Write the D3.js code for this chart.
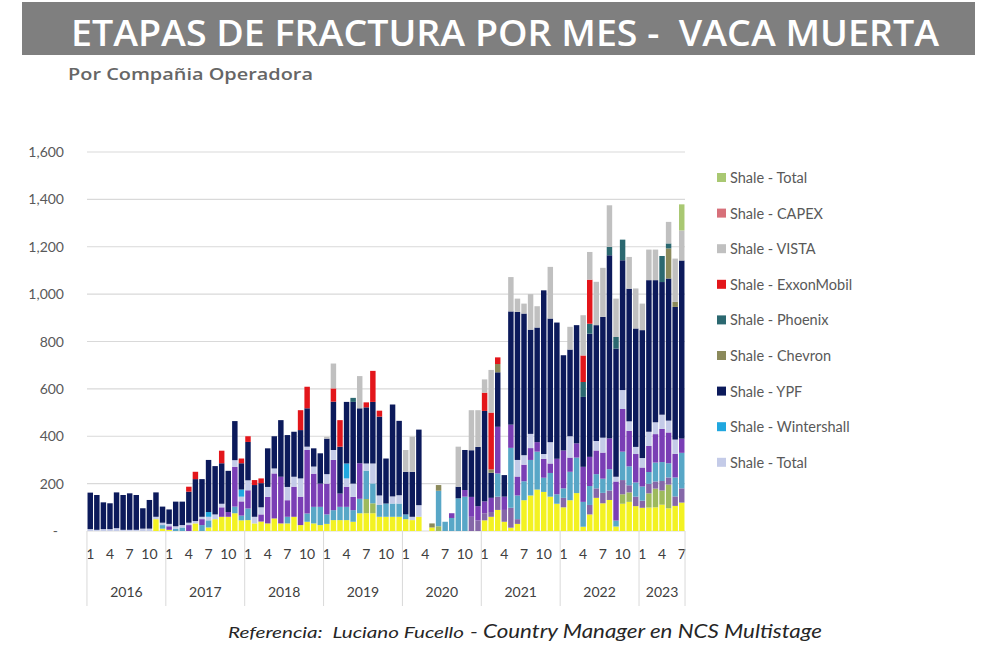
<!DOCTYPE html>
<html><head><meta charset="utf-8">
<script src="https://cdn.jsdelivr.net/npm/d3@7"></script>
<style>body{margin:0;background:#fff}svg{display:block}text{white-space:pre}</style>
</head><body>
<svg id="chart" width="992" height="658"></svg>
<script>
// ---------- DATA ----------
const years = ["2016","2017","2018","2019","2020","2021","2022","2023"];
const monthsPerYear = [12,12,12,12,12,12,12,7];
const monthTickLabels = [1,4,7,10];
const yTicks = [0,200,400,600,800,1000,1200,1400,1600];

const shell = [0,0,0,0,0,0,0,0,0,0,50,10, 5,0,0,0,32,0,15,50,60,60,75,45, 46,32,40,32,53,32,32,60,25,39,32,25, 30,46,46,46,39,75,75,75,60,60,60,60, 50,46,60,0,15,0,0,0,0,0,0,0, 45,60,89,39,14,30,130,150,175,165,145,115, 100,130,160,18,70,140,117,131,19,115,123,105, 98,99,100,111,96,106,120];
const oliveGreen = [0,0,0,0,0,0,0,0,0,0,0,0, 0,0,0,0,0,0,0,0,0,0,0,0, 0,0,0,0,0,0,0,0,0,0,0,0, 0,0,0,0,0,0,60,42,0,0,0,0, 0,0,0,0,0,20,0,0,0,0,0,0, 0,0,0,0,0,0,0,0,0,0,0,0, 0,0,0,0,0,0,0,0,0,40,40,0, 0,60,79,60,100,0,0];
const mutedPurple = [0,0,0,0,0,0,0,0,0,0,0,0, 0,0,0,0,0,0,0,0,0,0,0,0, 0,0,0,0,0,0,0,0,0,0,0,0, 0,0,0,0,0,0,0,0,0,0,0,0, 0,0,0,0,0,0,0,0,0,0,60,45, 30,20,56,50,84,20,0,0,0,0,0,0, 40,0,0,0,40,40,44,40,0,60,30,40, 30,40,30,40,30,40,60];
const steelBlue = [0,0,0,0,0,0,0,0,0,0,0,15, 0,10,15,0,0,25,30,0,0,0,28,20, 49,0,0,0,0,0,28,0,0,35,70,77, 40,42,56,56,49,61,120,84,50,56,56,56, 20,0,0,0,0,150,39,55,138,145,0,0, 0,0,98,0,253,100,80,150,160,60,100,40, 40,120,150,105,80,60,60,90,25,120,80,60, 60,50,80,80,60,80,150];
const purple = [0,0,0,0,0,0,0,0,0,0,0,0, 15,0,0,25,0,25,0,0,40,20,168,60, 77,0,30,112,190,197,70,127,120,268,140,98, 130,212,56,85,56,150,0,0,0,0,0,0, 0,0,0,0,0,0,0,20,0,28,84,60, 50,60,197,56,98,80,70,50,40,80,40,150, 160,60,60,148,123,100,110,130,165,180,150,120, 80,110,120,140,130,100,60];
const total = [8,5,8,8,12,5,5,5,10,10,10,10, 10,10,10,10,10,10,15,20,15,0,28,20, 42,28,30,42,21,0,56,42,77,14,30,0, 40,42,0,35,56,0,30,84,40,0,30,35, 0,14,49,0,0,0,0,0,0,0,0,0, 0,0,0,0,0,70,40,60,0,20,90,0, 0,90,0,0,0,40,63,0,20,80,40,30, 40,60,50,60,50,60,0];
const wintershall = [0,0,0,0,0,0,0,0,0,0,0,0, 0,0,0,0,0,0,20,0,0,0,0,30, 0,0,0,0,0,0,0,0,0,0,0,0, 0,0,0,63,0,0,0,0,0,0,0,0, 0,0,0,0,0,0,0,0,0,0,0,0, 0,0,0,0,0,0,0,0,0,0,0,0, 0,0,0,0,0,0,0,0,0,0,0,0, 0,0,0,0,0,0,0];
const ypf = [154,147,113,109,151,147,154,147,86,121,103,68, 61,104,99,131,177,159,220,204,171,174,165,111, 162,134,102,163,136,239,219,190,204,162,77,128, 150,204,198,260,345,232,237,260,333,190,388,314, 180,190,319,0,0,0,0,0,49,169,197,250, 382,106,230,91,478,625,598,440,484,691,522,575, 402,366,499,295,520,489,510,773,541,548,560,500, 540,640,600,560,600,560,752];
const chevron = [0,0,0,0,0,0,0,0,0,0,0,0, 0,0,0,0,0,0,0,0,0,0,0,0, 0,0,0,0,0,0,0,0,0,0,0,0, 0,0,0,0,0,0,0,0,0,0,0,0, 0,0,0,0,17,24,0,0,0,0,0,0, 0,14,35,0,0,0,0,0,0,0,0,0, 0,0,0,0,0,0,0,0,0,0,0,0, 0,0,0,0,127,21,0];
const phoenix = [0,0,0,0,0,0,0,0,0,0,0,0, 0,0,0,0,0,0,0,0,0,0,0,0, 0,0,0,0,0,0,0,0,0,0,0,0, 0,0,0,0,17,0,0,0,0,0,0,0, 0,0,0,0,0,0,0,0,0,0,0,0, 0,0,0,0,0,0,0,0,0,0,0,0, 0,0,0,63,42,0,0,35,49,87,0,0, 0,0,0,110,21,0,0];
const exxon = [0,0,0,0,0,0,0,0,0,0,0,0, 0,0,0,21,31,0,0,0,53,0,0,20, 24,21,20,0,0,0,0,0,84,91,0,0, 0,56,112,0,0,0,21,131,25,0,0,0, 0,0,0,0,0,0,0,0,0,0,0,0, 77,240,28,0,0,0,0,0,0,0,0,0, 0,0,0,112,186,0,0,0,0,0,0,0, 0,0,0,0,0,0,0];
const vista = [0,0,0,0,0,0,0,0,0,0,0,0, 0,0,0,0,0,0,0,0,0,0,0,0, 0,0,0,0,0,0,0,0,0,0,0,0, 8,105,0,0,0,136,0,0,0,0,0,0, 92,148,0,0,0,0,0,0,169,0,169,155, 56,180,0,0,145,56,42,150,90,0,218,0, 0,96,0,170,117,183,207,176,162,0,134,169, 112,129,129,0,91,183,127];
const capex = [0,0,0,0,0,0,0,0,0,0,0,0, 0,0,0,0,0,0,0,0,0,0,0,0, 0,0,0,0,0,0,0,0,0,0,0,0, 0,0,0,0,0,0,0,0,0,0,0,0, 0,0,0,0,0,0,0,0,0,0,0,0, 0,0,0,0,0,0,0,0,0,0,0,0, 0,0,0,0,0,0,0,0,0,0,0,0, 0,0,0,0,0,0,0];
const totalTop = [0,0,0,0,0,0,0,0,0,0,0,0, 0,0,0,0,0,0,0,0,0,0,0,0, 0,0,0,0,0,0,0,0,0,0,0,0, 0,0,0,0,0,0,0,0,0,0,0,0, 0,0,0,0,0,0,0,0,0,0,0,0, 0,0,0,0,0,0,0,0,0,0,0,0, 0,0,0,0,0,0,0,0,0,0,0,0, 0,0,0,0,0,0,110];

// series: bottom to top of stack
const seriesDefs = [
  {key:"shell", name:"Shale - Shell", values:shell, color:"#F3F222", legend:false},
  {key:"oliveGreen", name:"Shale - Otra", values:oliveGreen, color:"#9DBA5C", legend:false},
  {key:"mutedPurple", name:"Shale - Otra 2", values:mutedPurple, color:"#8567A8", legend:false},
  {key:"steelBlue", name:"Shale - Otra 3", values:steelBlue, color:"#58A7C7", legend:false},
  {key:"purple", name:"Shale - Otra 4", values:purple, color:"#7A3EB5", legend:false},
  {key:"total", name:"Shale - Total", values:total, color:"#C4CBE8", legend:true},
  {key:"wintershall", name:"Shale - Wintershall", values:wintershall, color:"#20A7DF", legend:true},
  {key:"ypf", name:"Shale - YPF", values:ypf, color:"#0C1A5B", legend:true},
  {key:"chevron", name:"Shale - Chevron", values:chevron, color:"#8B8A5B", legend:true},
  {key:"phoenix", name:"Shale - Phoenix", values:phoenix, color:"#2B6870", legend:true},
  {key:"exxon", name:"Shale - ExxonMobil", values:exxon, color:"#E3161B", legend:true},
  {key:"vista", name:"Shale - VISTA", values:vista, color:"#C0C0C0", legend:true},
  {key:"capex", name:"Shale - CAPEX", values:capex, color:"#D7707A", legend:true},
  {key:"totalTop", name:"Shale - Total", values:totalTop, color:"#A9C872", legend:true}
];

// ---------- BUILD ----------
const months = [];
years.forEach((y,yi)=>{ for(let m=1;m<=monthsPerYear[yi];m++) months.push({id:y+"-"+m, year:y, m:m}); });
const rows = months.map((d,i)=>{ const r={id:d.id}; seriesDefs.forEach(s=>r[s.key]=s.values[i]); return r; });

const svg = d3.select("#chart");
const plot = {left:87, right:685, top:152, bottom:531};

// title banner
svg.append("rect").attr("x",22).attr("y",2).attr("width",953).attr("height",53).attr("fill","#7F7F7F");
svg.append("text").attr("x",505).attr("y",46).attr("text-anchor","middle")
  .attr("font-family","'Open Sans',sans-serif").attr("font-weight",600).attr("font-size",36)
  .attr("fill","#fff").attr("textLength",868).attr("lengthAdjust","spacingAndGlyphs")
  .text("ETAPAS DE FRACTURA POR MES -  VACA MUERTA");
svg.append("text").attr("x",68).attr("y",80)
  .attr("font-family","'Open Sans',sans-serif").attr("font-weight",600).attr("font-size",15.5)
  .attr("fill","#666").attr("textLength",245).attr("lengthAdjust","spacingAndGlyphs")
  .text("Por Compañia Operadora");

const x = d3.scaleBand().domain(months.map(d=>d.id)).range([plot.left, plot.right]).paddingInner(0.17).paddingOuter(0.08);
const y = d3.scaleLinear().domain([0,1600]).range([plot.bottom, plot.top]);

// gridlines
svg.append("g").selectAll("line").data(yTicks).join("line")
  .attr("x1",plot.left).attr("x2",plot.right)
  .attr("y1",d=>y(d)).attr("y2",d=>y(d))
  .attr("stroke","#D9D9D9").attr("stroke-width",1.2);

// y labels
svg.append("g").selectAll("text").data(yTicks).join("text")
  .attr("x",d=>d===0?58:64).attr("y",d=>y(d)+5)
  .attr("text-anchor","end")
  .attr("font-family","Lato,sans-serif").attr("font-size",14).attr("fill","#595959")
  .text(d=>d===0?"-":d3.format(",")(d));

// stacked bars
const stack = d3.stack().keys(seriesDefs.map(s=>s.key));
const layers = stack(rows);
const g = svg.append("g");
layers.forEach((layer,li)=>{
  g.append("g").attr("fill",seriesDefs[li].color)
   .selectAll("rect").data(layer).join("rect")
   .attr("x",(d,i)=>x(months[i].id))
   .attr("width",x.bandwidth())
   .attr("y",d=>y(d[1]))
   .attr("height",d=>Math.max(0,y(d[0])-y(d[1])));
});

// x axis: month labels
const xa = svg.append("g");
months.forEach(d=>{
  if(monthTickLabels.includes(d.m)){
    xa.append("text").attr("x",x(d.id)+x.bandwidth()/2).attr("y",559)
      .attr("text-anchor","middle").attr("font-family","Lato,sans-serif").attr("font-size",14).attr("fill","#404040")
      .text(d.m);
  }
});
// year separators and labels
let start = 0;
const bounds = [];
years.forEach((yr,yi)=>{
  const first = months[start], last = months[start+monthsPerYear[yi]-1];
  const step = x.step();
  const x0 = x(first.id) - (step - x.bandwidth())/2;
  const x1 = x(last.id) + x.bandwidth() + (step - x.bandwidth())/2;
  bounds.push(x0); if(yi===years.length-1) bounds.push(x1);
  xa.append("text").attr("x",(x0+x1)/2).attr("y",597).attr("text-anchor","middle")
    .attr("font-family","Lato,sans-serif").attr("font-size",14).attr("fill","#404040").text(yr);
  start += monthsPerYear[yi];
});
xa.selectAll("line.sep").data(bounds).join("line").attr("class","sep")
  .attr("x1",d=>d).attr("x2",d=>d).attr("y1",plot.bottom).attr("y2",606)
  .attr("stroke","#D9D9D9").attr("stroke-width",1);

// legend (top = last series)
const legendItems = seriesDefs.filter(s=>s.legend).slice().reverse();
const lg = svg.append("g");
legendItems.forEach((s,i)=>{
  const cy = 178 + i*35.6;
  lg.append("rect").attr("x",717).attr("y",cy-5).attr("width",9).attr("height",9).attr("fill",s.color);
  lg.append("text").attr("x",730).attr("y",cy+5).attr("font-family","Lato,sans-serif").attr("font-size",14.5)
    .attr("fill","#595959").text(s.name);
});

// footer
const ft = svg.append("text").attr("y",638).attr("font-family","Lato,sans-serif").attr("font-style","italic").attr("fill","#262626");
ft.append("tspan").attr("x",228).attr("font-size",16).attr("textLength",236).attr("lengthAdjust","spacingAndGlyphs").text("Referencia:  Luciano Fucello");
ft.append("tspan").attr("x",470).attr("font-size",19).attr("textLength",352).attr("lengthAdjust","spacingAndGlyphs").text("- Country Manager en NCS Multistage");
</script>
</body></html>
